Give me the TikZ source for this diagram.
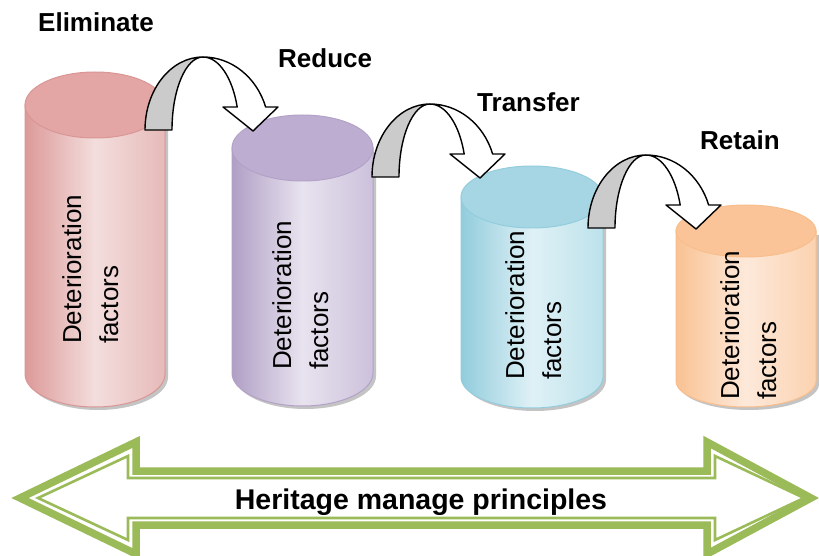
\documentclass[tikz,border=0pt]{standalone}
\usepackage{fontspec}
\setmainfont{Liberation Sans}
\definecolor{grn}{HTML}{9BBB59}
\definecolor{arrgray}{HTML}{CBCBCB}
\definecolor{shadowc}{HTML}{C4C4C4}
\definecolor{cAtop}{HTML}{E3A6A5}
\definecolor{cAl}{HTML}{DC9A99}
\definecolor{cAm}{HTML}{F3DEDD}
\definecolor{cAr}{HTML}{E6BAB9}
\definecolor{cAline}{HTML}{D99694}
\definecolor{cBtop}{HTML}{BCADD1}
\definecolor{cBl}{HTML}{B09FC5}
\definecolor{cBm}{HTML}{E8E3EF}
\definecolor{cBr}{HTML}{CCC1DB}
\definecolor{cBline}{HTML}{B3A2C7}
\definecolor{cCtop}{HTML}{A6D6E3}
\definecolor{cCl}{HTML}{92CCDC}
\definecolor{cCm}{HTML}{DFF1F6}
\definecolor{cCr}{HTML}{BDE2EB}
\definecolor{cCline}{HTML}{93CDDD}
\definecolor{cDtop}{HTML}{FAC498}
\definecolor{cDl}{HTML}{F9C293}
\definecolor{cDm}{HTML}{FDE9DA}
\definecolor{cDr}{HTML}{FBD2B0}
\definecolor{cDline}{HTML}{F8BE8C}
\tikzset{
  arrline/.style={draw=black, line width=1.4pt, line join=round},
  cyltext/.style={rotate=90, anchor=north west, inner sep=0pt, align=left,
    font=\fontsize{26}{37}\selectfont},
  steplabel/.style={anchor=base west, inner sep=0pt, font=\fontsize{26}{30}\selectfont\bfseries},
}
\newcommand\mycyl[6]{%
  \pgfmathsetmacro\cyX{(#1+#2)/2}%
  \pgfmathsetmacro\cyR{(#2-#1)/2}%
  \pgfmathsetmacro\cyT{555-#3}%
  \pgfmathsetmacro\cyB{555-#4}%
  \fill[shadowc] (#1+3,\cyT-4) -- (#1+3,\cyB-3) arc[start angle=180,end angle=360,x radius=\cyR,y radius=#5] -- (#2+3,\cyT-4) -- cycle;
  \shadedraw[left color=#6l, right color=#6r, middle color=#6m, draw=#6line, line width=1pt]
    (#1,\cyT) -- (#1,\cyB) arc[start angle=180,end angle=360,x radius=\cyR,y radius=#5] -- (#2,\cyT) -- cycle;
  \filldraw[fill=#6top, draw=#6line, line width=1pt] (\cyX,\cyT) ellipse [x radius=\cyR, y radius=#5];
}
\newcommand\curvarr[2]{%
  \pgfmathsetmacro\caY{555-#2}%
  \filldraw[arrline, fill=arrgray] (#1,\caY) arc[start angle=180,end angle=90,x radius=58,y radius=73]
     arc[start angle=90,end angle=180,x radius=31,y radius=73] -- cycle;
  \filldraw[arrline, fill=white] (#1+58,\caY+73) arc[start angle=90,end angle=18.4,x radius=66,y radius=73]
     -- (#1+133,\caY+23) -- (#1+108,\caY-1) -- (#1+78,\caY+23) -- (#1+92.2,\caY+23)
     arc[start angle=18.4,end angle=90,x radius=36,y radius=73] -- cycle;
}
\begin{document}
\begin{tikzpicture}[x=1pt,y=1pt]
\useasboundingbox (0,0) rectangle (819,555);
\fill[white] (0,0) rectangle (819,555);
% cylinders
\mycyl{25}{165}{105}{374}{33}{cA}
\mycyl{232}{373}{148}{373}{33}{cB}
\mycyl{461}{603}{197}{377}{31}{cC}
\mycyl{676}{816}{231}{381}{26}{cD}
% texts in cylinders
\node[cyltext] (t1) at (62,555-344) {Deterioration\\factors};
\node[cyltext] (t2) at (272,555-370) {Deterioration\\factors};
\node[cyltext] (t3) at (505,555-380) {Deterioration\\factors};
\node[cyltext] (t4) at (720,555-400) {Deterioration\\factors};
% curved arrows
\curvarr{145}{130}
\curvarr{372}{177}
\curvarr{588}{228}
% step labels
\node[steplabel] (l1) at (38,555-32) {Eliminate};
\node[steplabel] (l2) at (278,555-68) {Reduce};
\node[steplabel] (l3) at (477,555-112) {Transfer};
\node[steplabel] (l4) at (700,555-150) {Retain};
% double arrow
\draw[grn, line width=7.5pt, line join=miter] (20,555-498) -- (136,555-442) -- (136,555-471)
  -- (707,555-471) -- (707,555-442) -- (811,555-498) -- (707,555-554) -- (707,555-525)
  -- (136,555-525) -- (136,555-554) -- cycle;
\draw[grn, line width=2.6pt, line join=miter] (38,555-498) -- (128,555-456) -- (128,555-478)
  -- (715,555-478) -- (715,555-456) -- (804,555-498) -- (715,555-540) -- (715,555-518)
  -- (128,555-518) -- (128,555-540) -- cycle;
\node[inner sep=0pt, anchor=base, font=\fontsize{28.5}{32}\selectfont\bfseries] (hm) at (421,555-509) {Heritage manage principles};
\end{tikzpicture}
\end{document}
